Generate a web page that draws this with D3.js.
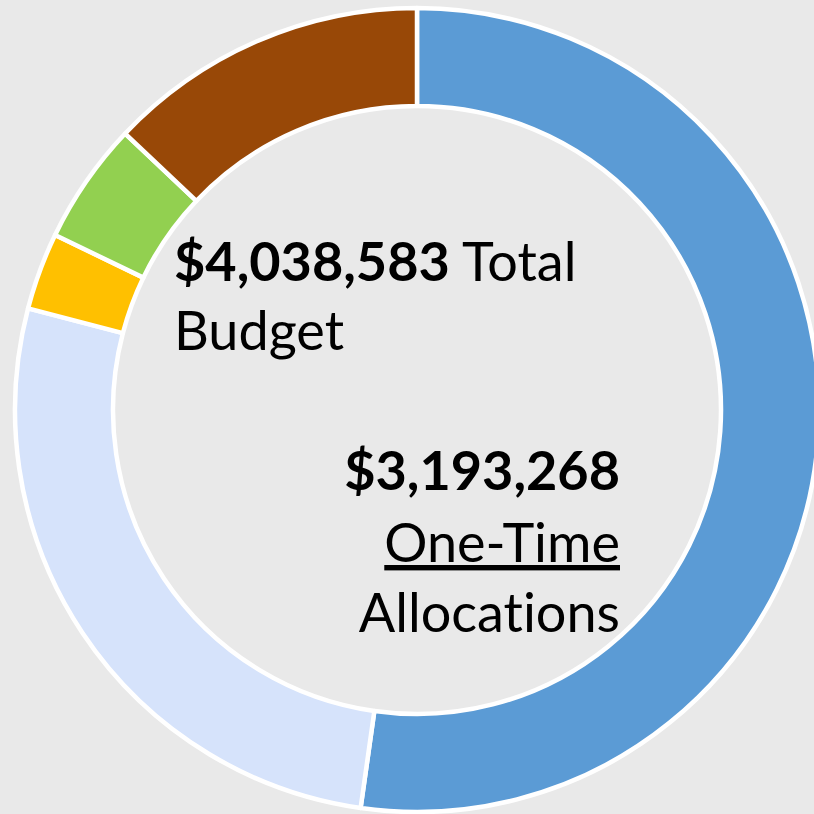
<!DOCTYPE html>
<html>
<head>
<meta charset="utf-8">
<script src="https://cdn.jsdelivr.net/npm/d3@7"></script>
<style>
  html, body { margin: 0; padding: 0; background: #e9e9e9; }
  svg { display: block; }
  text { font-variant-ligatures: none; }
</style>
</head>
<body>
<div id="chart"></div>
<script>
// slice data, clockwise from 12 o'clock
const categories = ["One-Time A", "One-Time B", "Other C", "Other D", "Other E"];
const amounts = [2109756, 1083512, 125196, 197890, 522229];
const colors = ["#5b9bd5", "#d6e3fb", "#ffc000", "#92d050", "#984807"];

const totalLabel = ["$4,038,583", " Total", "Budget"];
const oneTimeLabel = ["$3,193,268", "One-Time", "Allocations"];

const width = 814, height = 814;
const cx = 417, cy = 410;
const outerR = 402, innerR = 304;

const svg = d3.select("#chart").append("svg")
  .attr("width", width)
  .attr("height", height)
  .style("background-color", "#e9e9e9");

const pie = d3.pie().sort(null).value(d => d);
const arc = d3.arc().innerRadius(innerR).outerRadius(outerR);

const g = svg.append("g").attr("transform", `translate(${cx},${cy})`);
g.selectAll("path")
  .data(pie(amounts))
  .enter()
  .append("path")
  .attr("d", arc)
  .attr("fill", (d, i) => colors[i])
  .attr("stroke", "#fff")
  .attr("stroke-width", 4.5)
  .attr("stroke-linejoin", "round");

const font = "Lato, 'Open Sans', sans-serif";
const fs = "54px";

// total budget label
const t1 = svg.append("text")
  .attr("x", 174).attr("y", 281)
  .style("font-family", font)
  .style("font-size", fs)
  .attr("fill", "#000");
t1.append("tspan").style("font-weight", "bold").text(totalLabel[0]);
t1.append("tspan").text(totalLabel[1]);
svg.append("text")
  .attr("x", 174).attr("y", 350)
  .style("font-family", font)
  .style("font-size", fs)
  .text(totalLabel[2]);

// one-time label
svg.append("text")
  .attr("x", 620).attr("y", 490)
  .attr("text-anchor", "end")
  .style("font-family", font)
  .style("font-size", fs)
  .style("font-weight", "bold")
  .text(oneTimeLabel[0]);
svg.append("text")
  .attr("x", 620).attr("y", 562)
  .attr("text-anchor", "end")
  .style("font-family", font)
  .style("font-size", fs)
  .style("text-decoration", "underline")
  .text(oneTimeLabel[1]);
svg.append("text")
  .attr("x", 620).attr("y", 632)
  .attr("text-anchor", "end")
  .style("font-family", font)
  .style("font-size", fs)
  .text(oneTimeLabel[2]);
</script>
</body>
</html>
